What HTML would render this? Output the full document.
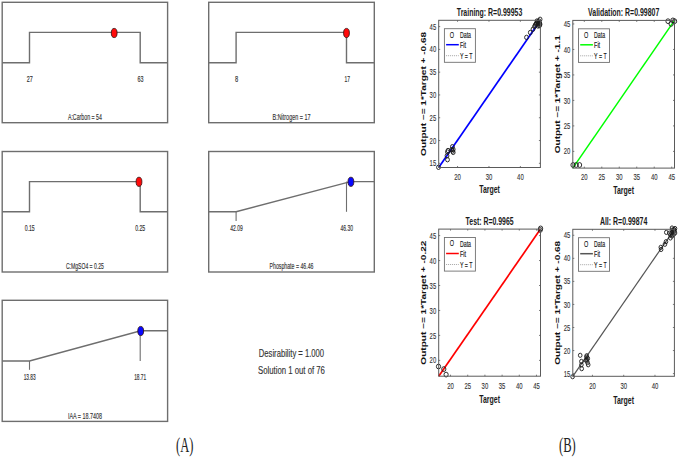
<!DOCTYPE html>
<html><head><meta charset="utf-8"><style>
html,body{margin:0;padding:0;background:#fff;}
svg{display:block;}
</style></head><body>
<svg width="678" height="458" viewBox="0 0 678 458">
<rect x="0" y="0" width="678" height="458" fill="#fff"/>
<rect x="2.2" y="2.3" width="165.4" height="120.4" fill="none" stroke="#6e6e6e" stroke-width="1.4"/>
<polyline points="2.2,62.7 29.5,62.7 29.5,32.4 140.2,32.4 140.2,62.7 167.6,62.7" fill="none" stroke="#6e6e6e" stroke-width="1.4" stroke-linejoin="miter"/>
<text x="29.8" y="82" font-family="&quot;Liberation Sans&quot;, sans-serif" font-size="9.6" font-weight="normal" text-anchor="middle" fill="#333" stroke="#333" stroke-width="0.18" textLength="6" lengthAdjust="spacingAndGlyphs" >27</text>
<text x="140.5" y="82" font-family="&quot;Liberation Sans&quot;, sans-serif" font-size="9.6" font-weight="normal" text-anchor="middle" fill="#333" stroke="#333" stroke-width="0.18" textLength="6" lengthAdjust="spacingAndGlyphs" >63</text>
<text x="84.89999999999999" y="119.5" font-family="&quot;Liberation Sans&quot;, sans-serif" font-size="9.4" font-weight="normal" text-anchor="middle" fill="#333" stroke="#333" stroke-width="0.15" textLength="34" lengthAdjust="spacingAndGlyphs" >A:Carbon = 54</text>
<ellipse cx="114.2" cy="33" rx="2.9" ry="4.6" fill="#ff0a0a" stroke="#301010" stroke-width="0.8"/>
<rect x="208.7" y="2.3" width="165.60000000000002" height="120.4" fill="none" stroke="#6e6e6e" stroke-width="1.4"/>
<polyline points="208.7,62.7 236.1,62.7 236.1,32.4 346.5,32.4 346.5,62.7 374.3,62.7" fill="none" stroke="#6e6e6e" stroke-width="1.4" stroke-linejoin="miter"/>
<text x="236.5" y="82" font-family="&quot;Liberation Sans&quot;, sans-serif" font-size="9.6" font-weight="normal" text-anchor="middle" fill="#333" stroke="#333" stroke-width="0.18" textLength="3.2" lengthAdjust="spacingAndGlyphs" >8</text>
<text x="347.3" y="82" font-family="&quot;Liberation Sans&quot;, sans-serif" font-size="9.6" font-weight="normal" text-anchor="middle" fill="#333" stroke="#333" stroke-width="0.18" textLength="5.5" lengthAdjust="spacingAndGlyphs" >17</text>
<text x="291.5" y="119.7" font-family="&quot;Liberation Sans&quot;, sans-serif" font-size="9.4" font-weight="normal" text-anchor="middle" fill="#333" stroke="#333" stroke-width="0.15" textLength="38" lengthAdjust="spacingAndGlyphs" >B:Nitrogen = 17</text>
<ellipse cx="346.5" cy="33" rx="2.9" ry="4.6" fill="#ff0a0a" stroke="#301010" stroke-width="0.8"/>
<rect x="2.2" y="151.5" width="165.4" height="120.5" fill="none" stroke="#6e6e6e" stroke-width="1.4"/>
<polyline points="2.2,211.8 29.5,211.8 29.5,181.6 140.2,181.6 140.2,211.8 167.6,211.8" fill="none" stroke="#6e6e6e" stroke-width="1.4" stroke-linejoin="miter"/>
<text x="29.7" y="231" font-family="&quot;Liberation Sans&quot;, sans-serif" font-size="9.6" font-weight="normal" text-anchor="middle" fill="#333" stroke="#333" stroke-width="0.18" textLength="10" lengthAdjust="spacingAndGlyphs" >0.15</text>
<text x="140.2" y="231" font-family="&quot;Liberation Sans&quot;, sans-serif" font-size="9.6" font-weight="normal" text-anchor="middle" fill="#333" stroke="#333" stroke-width="0.18" textLength="10" lengthAdjust="spacingAndGlyphs" >0.25</text>
<text x="84.89999999999999" y="268.6" font-family="&quot;Liberation Sans&quot;, sans-serif" font-size="9.4" font-weight="normal" text-anchor="middle" fill="#333" stroke="#333" stroke-width="0.15" textLength="38" lengthAdjust="spacingAndGlyphs" >C:MgSO4 = 0.25</text>
<ellipse cx="139" cy="181.8" rx="2.9" ry="4.6" fill="#ff0a0a" stroke="#301010" stroke-width="0.8"/>
<rect x="208.7" y="151.5" width="165.60000000000002" height="120.5" fill="none" stroke="#6e6e6e" stroke-width="1.4"/>
<polyline points="208.7,211.8 236.1,211.8 350.4,181.6 374.3,181.6" fill="none" stroke="#6e6e6e" stroke-width="1.4" stroke-linejoin="miter"/>
<line x1="236.1" y1="211.8" x2="236.1" y2="221" stroke="#6e6e6e" stroke-width="1.1" />
<line x1="346.5" y1="181.6" x2="346.5" y2="211.8" stroke="#6e6e6e" stroke-width="1.1" />
<text x="236.6" y="231.3" font-family="&quot;Liberation Sans&quot;, sans-serif" font-size="9.6" font-weight="normal" text-anchor="middle" fill="#333" stroke="#333" stroke-width="0.18" textLength="12.5" lengthAdjust="spacingAndGlyphs" >42.09</text>
<text x="346.8" y="231.3" font-family="&quot;Liberation Sans&quot;, sans-serif" font-size="9.6" font-weight="normal" text-anchor="middle" fill="#333" stroke="#333" stroke-width="0.18" textLength="12.5" lengthAdjust="spacingAndGlyphs" >46.30</text>
<text x="291.5" y="268.6" font-family="&quot;Liberation Sans&quot;, sans-serif" font-size="9.4" font-weight="normal" text-anchor="middle" fill="#333" stroke="#333" stroke-width="0.15" textLength="44" lengthAdjust="spacingAndGlyphs" >Phosphate = 46.46</text>
<ellipse cx="350.9" cy="181.8" rx="2.9" ry="4.6" fill="#0808ff" stroke="#301010" stroke-width="0.8"/>
<rect x="2.2" y="300.3" width="165.4" height="121.09999999999997" fill="none" stroke="#6e6e6e" stroke-width="1.4"/>
<polyline points="2.2,361.0 29.5,361.0 140.7,330.7 167.6,330.7" fill="none" stroke="#6e6e6e" stroke-width="1.4" stroke-linejoin="miter"/>
<line x1="29.5" y1="361.0" x2="29.5" y2="369.8" stroke="#6e6e6e" stroke-width="1.1" />
<line x1="140.2" y1="330.7" x2="140.2" y2="361.0" stroke="#6e6e6e" stroke-width="1.1" />
<text x="29.7" y="380" font-family="&quot;Liberation Sans&quot;, sans-serif" font-size="9.6" font-weight="normal" text-anchor="middle" fill="#333" stroke="#333" stroke-width="0.18" textLength="12" lengthAdjust="spacingAndGlyphs" >13.83</text>
<text x="140.2" y="380" font-family="&quot;Liberation Sans&quot;, sans-serif" font-size="9.6" font-weight="normal" text-anchor="middle" fill="#333" stroke="#333" stroke-width="0.18" textLength="12" lengthAdjust="spacingAndGlyphs" >18.71</text>
<text x="84.89999999999999" y="418.5" font-family="&quot;Liberation Sans&quot;, sans-serif" font-size="9.4" font-weight="normal" text-anchor="middle" fill="#333" stroke="#333" stroke-width="0.15" textLength="34" lengthAdjust="spacingAndGlyphs" >IAA = 18.7408</text>
<ellipse cx="140.7" cy="331" rx="2.9" ry="4.6" fill="#0808ff" stroke="#301010" stroke-width="0.8"/>
<text x="291.45" y="356.5" font-family="&quot;Liberation Sans&quot;, sans-serif" font-size="11" font-weight="normal" text-anchor="middle" fill="#333" stroke="#333" stroke-width="0.15" textLength="65.3" lengthAdjust="spacingAndGlyphs" >Desirability = 1.000</text>
<text x="291.45" y="374.2" font-family="&quot;Liberation Sans&quot;, sans-serif" font-size="11" font-weight="normal" text-anchor="middle" fill="#333" stroke="#333" stroke-width="0.15" textLength="66.9" lengthAdjust="spacingAndGlyphs" >Solution 1 out of 76</text>
<text x="184.8" y="451.7" font-family="&quot;Liberation Serif&quot;, serif" font-size="20" font-weight="normal" text-anchor="middle" fill="#222" textLength="17.4" lengthAdjust="spacingAndGlyphs" >(A)</text>
<text x="567.4" y="451.6" font-family="&quot;Liberation Serif&quot;, serif" font-size="20" font-weight="normal" text-anchor="middle" fill="#222" textLength="16.8" lengthAdjust="spacingAndGlyphs" >(B)</text>
<line x1="438.7" y1="167.5" x2="540.4" y2="20.3" stroke="#0000ff" stroke-width="1.7"/>
<ellipse cx="438.5" cy="167.3" rx="1.9" ry="2.2" fill="none" stroke="#1a1a1a" stroke-width="0.9"/>
<ellipse cx="447.5" cy="152" rx="1.9" ry="2.2" fill="none" stroke="#1a1a1a" stroke-width="0.9"/>
<ellipse cx="447" cy="155.8" rx="1.9" ry="2.2" fill="none" stroke="#1a1a1a" stroke-width="0.9"/>
<ellipse cx="447.5" cy="159.7" rx="1.9" ry="2.2" fill="none" stroke="#1a1a1a" stroke-width="0.9"/>
<ellipse cx="448" cy="150.5" rx="1.9" ry="2.2" fill="none" stroke="#1a1a1a" stroke-width="0.9"/>
<ellipse cx="452.4" cy="146.7" rx="1.9" ry="2.2" fill="none" stroke="#1a1a1a" stroke-width="0.9"/>
<ellipse cx="453.2" cy="149.4" rx="1.9" ry="2.2" fill="none" stroke="#1a1a1a" stroke-width="0.9"/>
<ellipse cx="453.2" cy="152.4" rx="1.9" ry="2.2" fill="none" stroke="#1a1a1a" stroke-width="0.9"/>
<ellipse cx="451.6" cy="149.7" rx="1.9" ry="2.2" fill="none" stroke="#1a1a1a" stroke-width="0.9"/>
<ellipse cx="452.6" cy="151" rx="1.9" ry="2.2" fill="none" stroke="#1a1a1a" stroke-width="0.9"/>
<ellipse cx="540.1" cy="19.3" rx="1.9" ry="2.2" fill="none" stroke="#1a1a1a" stroke-width="0.9"/>
<ellipse cx="539" cy="21" rx="1.9" ry="2.2" fill="none" stroke="#1a1a1a" stroke-width="0.9"/>
<ellipse cx="539.8" cy="23.2" rx="1.9" ry="2.2" fill="none" stroke="#1a1a1a" stroke-width="0.9"/>
<ellipse cx="536.5" cy="23.2" rx="1.9" ry="2.2" fill="none" stroke="#1a1a1a" stroke-width="0.9"/>
<ellipse cx="535.2" cy="25.1" rx="1.9" ry="2.2" fill="none" stroke="#1a1a1a" stroke-width="0.9"/>
<ellipse cx="539.5" cy="25.6" rx="1.9" ry="2.2" fill="none" stroke="#1a1a1a" stroke-width="0.9"/>
<ellipse cx="537.5" cy="22" rx="1.9" ry="2.2" fill="none" stroke="#1a1a1a" stroke-width="0.9"/>
<ellipse cx="533" cy="29.2" rx="1.9" ry="2.2" fill="none" stroke="#1a1a1a" stroke-width="0.9"/>
<ellipse cx="530.3" cy="32.5" rx="1.9" ry="2.2" fill="none" stroke="#1a1a1a" stroke-width="0.9"/>
<ellipse cx="526.5" cy="37.4" rx="1.9" ry="2.2" fill="none" stroke="#1a1a1a" stroke-width="0.9"/>
<ellipse cx="538" cy="24" rx="1.9" ry="2.2" fill="none" stroke="#1a1a1a" stroke-width="0.9"/>
<ellipse cx="537" cy="21" rx="1.9" ry="2.2" fill="none" stroke="#1a1a1a" stroke-width="0.9"/>
<ellipse cx="538.5" cy="22.5" rx="1.9" ry="2.2" fill="none" stroke="#1a1a1a" stroke-width="0.9"/>
<ellipse cx="540" cy="24.5" rx="1.9" ry="2.2" fill="none" stroke="#1a1a1a" stroke-width="0.9"/>
<ellipse cx="536" cy="24" rx="1.9" ry="2.2" fill="none" stroke="#1a1a1a" stroke-width="0.9"/>
<ellipse cx="538" cy="26" rx="1.9" ry="2.2" fill="none" stroke="#1a1a1a" stroke-width="0.9"/>
<ellipse cx="534.5" cy="26.5" rx="1.9" ry="2.2" fill="none" stroke="#1a1a1a" stroke-width="0.9"/>
<rect x="438.7" y="20.3" width="101.69999999999999" height="147.2" fill="none" stroke="#5a5a5a" stroke-width="1.0"/>
<line x1="457.5507877664504" y1="167.5" x2="457.5507877664504" y2="166.0" stroke="#5a5a5a" stroke-width="0.8" />
<line x1="457.5507877664504" y1="20.3" x2="457.5507877664504" y2="21.8" stroke="#5a5a5a" stroke-width="0.8" />
<text x="457.55" y="179.6" font-family="&quot;Liberation Sans&quot;, sans-serif" font-size="8.6" font-weight="normal" text-anchor="middle" fill="#333" stroke="#333" stroke-width="0.12" textLength="6.6" lengthAdjust="spacingAndGlyphs" >20</text>
<line x1="488.9687673772011" y1="167.5" x2="488.9687673772011" y2="166.0" stroke="#5a5a5a" stroke-width="0.8" />
<line x1="488.9687673772011" y1="20.3" x2="488.9687673772011" y2="21.8" stroke="#5a5a5a" stroke-width="0.8" />
<text x="488.97" y="179.6" font-family="&quot;Liberation Sans&quot;, sans-serif" font-size="8.6" font-weight="normal" text-anchor="middle" fill="#333" stroke="#333" stroke-width="0.12" textLength="6.6" lengthAdjust="spacingAndGlyphs" >30</text>
<line x1="520.3867469879518" y1="167.5" x2="520.3867469879518" y2="166.0" stroke="#5a5a5a" stroke-width="0.8" />
<line x1="520.3867469879518" y1="20.3" x2="520.3867469879518" y2="21.8" stroke="#5a5a5a" stroke-width="0.8" />
<text x="520.39" y="179.6" font-family="&quot;Liberation Sans&quot;, sans-serif" font-size="8.6" font-weight="normal" text-anchor="middle" fill="#333" stroke="#333" stroke-width="0.12" textLength="6.6" lengthAdjust="spacingAndGlyphs" >40</text>
<line x1="438.7" y1="163.307306501548" x2="440.2" y2="163.307306501548" stroke="#5a5a5a" stroke-width="0.8" />
<line x1="540.4" y1="163.307306501548" x2="538.9" y2="163.307306501548" stroke="#5a5a5a" stroke-width="0.8" />
<text x="436.2" y="166.41" font-family="&quot;Liberation Sans&quot;, sans-serif" font-size="8.6" font-weight="normal" text-anchor="end" fill="#333" stroke="#333" stroke-width="0.12" textLength="6.6" lengthAdjust="spacingAndGlyphs" >15</text>
<line x1="438.7" y1="140.52092879256966" x2="440.2" y2="140.52092879256966" stroke="#5a5a5a" stroke-width="0.8" />
<line x1="540.4" y1="140.52092879256966" x2="538.9" y2="140.52092879256966" stroke="#5a5a5a" stroke-width="0.8" />
<text x="436.2" y="143.62" font-family="&quot;Liberation Sans&quot;, sans-serif" font-size="8.6" font-weight="normal" text-anchor="end" fill="#333" stroke="#333" stroke-width="0.12" textLength="6.6" lengthAdjust="spacingAndGlyphs" >20</text>
<line x1="438.7" y1="117.73455108359134" x2="440.2" y2="117.73455108359134" stroke="#5a5a5a" stroke-width="0.8" />
<line x1="540.4" y1="117.73455108359134" x2="538.9" y2="117.73455108359134" stroke="#5a5a5a" stroke-width="0.8" />
<text x="436.2" y="120.83" font-family="&quot;Liberation Sans&quot;, sans-serif" font-size="8.6" font-weight="normal" text-anchor="end" fill="#333" stroke="#333" stroke-width="0.12" textLength="6.6" lengthAdjust="spacingAndGlyphs" >25</text>
<line x1="438.7" y1="94.94817337461302" x2="440.2" y2="94.94817337461302" stroke="#5a5a5a" stroke-width="0.8" />
<line x1="540.4" y1="94.94817337461302" x2="538.9" y2="94.94817337461302" stroke="#5a5a5a" stroke-width="0.8" />
<text x="436.2" y="98.05" font-family="&quot;Liberation Sans&quot;, sans-serif" font-size="8.6" font-weight="normal" text-anchor="end" fill="#333" stroke="#333" stroke-width="0.12" textLength="6.6" lengthAdjust="spacingAndGlyphs" >30</text>
<line x1="438.7" y1="72.16179566563468" x2="440.2" y2="72.16179566563468" stroke="#5a5a5a" stroke-width="0.8" />
<line x1="540.4" y1="72.16179566563468" x2="538.9" y2="72.16179566563468" stroke="#5a5a5a" stroke-width="0.8" />
<text x="436.2" y="75.26" font-family="&quot;Liberation Sans&quot;, sans-serif" font-size="8.6" font-weight="normal" text-anchor="end" fill="#333" stroke="#333" stroke-width="0.12" textLength="6.6" lengthAdjust="spacingAndGlyphs" >35</text>
<line x1="438.7" y1="49.37541795665638" x2="440.2" y2="49.37541795665638" stroke="#5a5a5a" stroke-width="0.8" />
<line x1="540.4" y1="49.37541795665638" x2="538.9" y2="49.37541795665638" stroke="#5a5a5a" stroke-width="0.8" />
<text x="436.2" y="52.48" font-family="&quot;Liberation Sans&quot;, sans-serif" font-size="8.6" font-weight="normal" text-anchor="end" fill="#333" stroke="#333" stroke-width="0.12" textLength="6.6" lengthAdjust="spacingAndGlyphs" >40</text>
<line x1="438.7" y1="26.589040247678042" x2="440.2" y2="26.589040247678042" stroke="#5a5a5a" stroke-width="0.8" />
<line x1="540.4" y1="26.589040247678042" x2="538.9" y2="26.589040247678042" stroke="#5a5a5a" stroke-width="0.8" />
<text x="436.2" y="29.69" font-family="&quot;Liberation Sans&quot;, sans-serif" font-size="8.6" font-weight="normal" text-anchor="end" fill="#333" stroke="#333" stroke-width="0.12" textLength="6.6" lengthAdjust="spacingAndGlyphs" >45</text>
<text x="489.54999999999995" y="16.0" font-family="&quot;Liberation Sans&quot;, sans-serif" font-size="10" font-weight="bold" text-anchor="middle" fill="#1a1a1a" textLength="65.5" lengthAdjust="spacingAndGlyphs" >Training: R=0.99953</text>
<text x="489.54999999999995" y="192.9" font-family="&quot;Liberation Sans&quot;, sans-serif" font-size="10.5" font-weight="bold" text-anchor="middle" fill="#1a1a1a" textLength="20.8" lengthAdjust="spacingAndGlyphs" >Target</text>
<text x="0" y="0" font-family="&quot;Liberation Sans&quot;, sans-serif" font-size="7.8" font-weight="bold" text-anchor="middle" fill="#111" textLength="124" lengthAdjust="spacingAndGlyphs" transform="translate(426.3,93.9) rotate(-90)">Output ~= 1*Target + -0.68</text>
<rect x="444.4" y="28.700000000000003" width="31" height="33.6" fill="#fff" stroke="#707070" stroke-width="0.9"/>
<text x="452.0" y="37.5" font-family="&quot;Liberation Sans&quot;, sans-serif" font-size="8.4" font-weight="normal" text-anchor="middle" fill="#111" stroke="#111" stroke-width="0.1" textLength="4.3" lengthAdjust="spacingAndGlyphs" >O</text>
<text x="460.0" y="38.0" font-family="&quot;Liberation Sans&quot;, sans-serif" font-size="8.4" font-weight="normal" text-anchor="start" fill="#111" stroke="#111" stroke-width="0.15" textLength="11" lengthAdjust="spacingAndGlyphs" >Data</text>
<line x1="446.09999999999997" y1="44.7" x2="458.79999999999995" y2="44.7" stroke="#0000ff" stroke-width="1.5"/>
<text x="460.0" y="47.900000000000006" font-family="&quot;Liberation Sans&quot;, sans-serif" font-size="8.4" font-weight="normal" text-anchor="start" fill="#111" stroke="#111" stroke-width="0.15" textLength="6" lengthAdjust="spacingAndGlyphs" >Fit</text>
<line x1="446.09999999999997" y1="55.7" x2="458.79999999999995" y2="55.7" stroke="#666" stroke-width="0.6" stroke-dasharray="1 1"/>
<text x="460.0" y="59.1" font-family="&quot;Liberation Sans&quot;, sans-serif" font-size="8.4" font-weight="normal" text-anchor="start" fill="#111" stroke="#111" stroke-width="0.15" textLength="12.5" lengthAdjust="spacingAndGlyphs" >Y = T</text>
<line x1="572.8" y1="168.1" x2="674.5" y2="20.4" stroke="#00ff00" stroke-width="1.5"/>
<ellipse cx="573" cy="165" rx="2.1" ry="2.4" fill="none" stroke="#1a1a1a" stroke-width="0.9"/>
<ellipse cx="576.2" cy="165" rx="2.1" ry="2.4" fill="none" stroke="#1a1a1a" stroke-width="0.9"/>
<ellipse cx="579.6" cy="165" rx="2.1" ry="2.4" fill="none" stroke="#1a1a1a" stroke-width="0.9"/>
<ellipse cx="668" cy="21.2" rx="2.1" ry="2.4" fill="none" stroke="#1a1a1a" stroke-width="0.9"/>
<ellipse cx="671.1" cy="23.9" rx="2.1" ry="2.4" fill="none" stroke="#1a1a1a" stroke-width="0.9"/>
<ellipse cx="674.6" cy="21.2" rx="2.1" ry="2.4" fill="none" stroke="#1a1a1a" stroke-width="0.9"/>
<ellipse cx="672.9" cy="20.4" rx="2.1" ry="2.4" fill="none" stroke="#1a1a1a" stroke-width="0.9"/>
<rect x="572.8" y="20.4" width="101.70000000000005" height="147.7" fill="none" stroke="#5a5a5a" stroke-width="1.0"/>
<line x1="584.3019938123066" y1="168.1" x2="584.3019938123066" y2="166.6" stroke="#5a5a5a" stroke-width="0.8" />
<line x1="584.3019938123066" y1="20.4" x2="584.3019938123066" y2="21.9" stroke="#5a5a5a" stroke-width="0.8" />
<text x="584.30" y="180.2" font-family="&quot;Liberation Sans&quot;, sans-serif" font-size="8.6" font-weight="normal" text-anchor="middle" fill="#333" stroke="#333" stroke-width="0.12" textLength="6.6" lengthAdjust="spacingAndGlyphs" >20</text>
<line x1="601.7822275696116" y1="168.1" x2="601.7822275696116" y2="166.6" stroke="#5a5a5a" stroke-width="0.8" />
<line x1="601.7822275696116" y1="20.4" x2="601.7822275696116" y2="21.9" stroke="#5a5a5a" stroke-width="0.8" />
<text x="601.78" y="180.2" font-family="&quot;Liberation Sans&quot;, sans-serif" font-size="8.6" font-weight="normal" text-anchor="middle" fill="#333" stroke="#333" stroke-width="0.12" textLength="6.6" lengthAdjust="spacingAndGlyphs" >25</text>
<line x1="619.2624613269164" y1="168.1" x2="619.2624613269164" y2="166.6" stroke="#5a5a5a" stroke-width="0.8" />
<line x1="619.2624613269164" y1="20.4" x2="619.2624613269164" y2="21.9" stroke="#5a5a5a" stroke-width="0.8" />
<text x="619.26" y="180.2" font-family="&quot;Liberation Sans&quot;, sans-serif" font-size="8.6" font-weight="normal" text-anchor="middle" fill="#333" stroke="#333" stroke-width="0.12" textLength="6.6" lengthAdjust="spacingAndGlyphs" >30</text>
<line x1="636.7426950842214" y1="168.1" x2="636.7426950842214" y2="166.6" stroke="#5a5a5a" stroke-width="0.8" />
<line x1="636.7426950842214" y1="20.4" x2="636.7426950842214" y2="21.9" stroke="#5a5a5a" stroke-width="0.8" />
<text x="636.74" y="180.2" font-family="&quot;Liberation Sans&quot;, sans-serif" font-size="8.6" font-weight="normal" text-anchor="middle" fill="#333" stroke="#333" stroke-width="0.12" textLength="6.6" lengthAdjust="spacingAndGlyphs" >35</text>
<line x1="654.2229288415263" y1="168.1" x2="654.2229288415263" y2="166.6" stroke="#5a5a5a" stroke-width="0.8" />
<line x1="654.2229288415263" y1="20.4" x2="654.2229288415263" y2="21.9" stroke="#5a5a5a" stroke-width="0.8" />
<text x="654.22" y="180.2" font-family="&quot;Liberation Sans&quot;, sans-serif" font-size="8.6" font-weight="normal" text-anchor="middle" fill="#333" stroke="#333" stroke-width="0.12" textLength="6.6" lengthAdjust="spacingAndGlyphs" >40</text>
<line x1="671.7031625988312" y1="168.1" x2="671.7031625988312" y2="166.6" stroke="#5a5a5a" stroke-width="0.8" />
<line x1="671.7031625988312" y1="20.4" x2="671.7031625988312" y2="21.9" stroke="#5a5a5a" stroke-width="0.8" />
<text x="671.70" y="180.2" font-family="&quot;Liberation Sans&quot;, sans-serif" font-size="8.6" font-weight="normal" text-anchor="middle" fill="#333" stroke="#333" stroke-width="0.12" textLength="6.6" lengthAdjust="spacingAndGlyphs" >45</text>
<line x1="572.8" y1="151.3830917874396" x2="574.3" y2="151.3830917874396" stroke="#5a5a5a" stroke-width="0.8" />
<line x1="674.5" y1="151.3830917874396" x2="673.0" y2="151.3830917874396" stroke="#5a5a5a" stroke-width="0.8" />
<text x="570.3" y="154.48" font-family="&quot;Liberation Sans&quot;, sans-serif" font-size="8.6" font-weight="normal" text-anchor="end" fill="#333" stroke="#333" stroke-width="0.12" textLength="6.6" lengthAdjust="spacingAndGlyphs" >20</text>
<line x1="572.8" y1="125.9" x2="574.3" y2="125.9" stroke="#5a5a5a" stroke-width="0.8" />
<line x1="674.5" y1="125.9" x2="673.0" y2="125.9" stroke="#5a5a5a" stroke-width="0.8" />
<text x="570.3" y="129.00" font-family="&quot;Liberation Sans&quot;, sans-serif" font-size="8.6" font-weight="normal" text-anchor="end" fill="#333" stroke="#333" stroke-width="0.12" textLength="6.6" lengthAdjust="spacingAndGlyphs" >25</text>
<line x1="572.8" y1="100.41690821256039" x2="574.3" y2="100.41690821256039" stroke="#5a5a5a" stroke-width="0.8" />
<line x1="674.5" y1="100.41690821256039" x2="673.0" y2="100.41690821256039" stroke="#5a5a5a" stroke-width="0.8" />
<text x="570.3" y="103.52" font-family="&quot;Liberation Sans&quot;, sans-serif" font-size="8.6" font-weight="normal" text-anchor="end" fill="#333" stroke="#333" stroke-width="0.12" textLength="6.6" lengthAdjust="spacingAndGlyphs" >30</text>
<line x1="572.8" y1="74.93381642512078" x2="574.3" y2="74.93381642512078" stroke="#5a5a5a" stroke-width="0.8" />
<line x1="674.5" y1="74.93381642512078" x2="673.0" y2="74.93381642512078" stroke="#5a5a5a" stroke-width="0.8" />
<text x="570.3" y="78.03" font-family="&quot;Liberation Sans&quot;, sans-serif" font-size="8.6" font-weight="normal" text-anchor="end" fill="#333" stroke="#333" stroke-width="0.12" textLength="6.6" lengthAdjust="spacingAndGlyphs" >35</text>
<line x1="572.8" y1="49.450724637681176" x2="574.3" y2="49.450724637681176" stroke="#5a5a5a" stroke-width="0.8" />
<line x1="674.5" y1="49.450724637681176" x2="673.0" y2="49.450724637681176" stroke="#5a5a5a" stroke-width="0.8" />
<text x="570.3" y="52.55" font-family="&quot;Liberation Sans&quot;, sans-serif" font-size="8.6" font-weight="normal" text-anchor="end" fill="#333" stroke="#333" stroke-width="0.12" textLength="6.6" lengthAdjust="spacingAndGlyphs" >40</text>
<line x1="572.8" y1="23.967632850241557" x2="574.3" y2="23.967632850241557" stroke="#5a5a5a" stroke-width="0.8" />
<line x1="674.5" y1="23.967632850241557" x2="673.0" y2="23.967632850241557" stroke="#5a5a5a" stroke-width="0.8" />
<text x="570.3" y="27.07" font-family="&quot;Liberation Sans&quot;, sans-serif" font-size="8.6" font-weight="normal" text-anchor="end" fill="#333" stroke="#333" stroke-width="0.12" textLength="6.6" lengthAdjust="spacingAndGlyphs" >45</text>
<text x="623.65" y="16.099999999999998" font-family="&quot;Liberation Sans&quot;, sans-serif" font-size="10" font-weight="bold" text-anchor="middle" fill="#1a1a1a" textLength="71.2" lengthAdjust="spacingAndGlyphs" >Validation: R=0.99807</text>
<text x="623.65" y="193.5" font-family="&quot;Liberation Sans&quot;, sans-serif" font-size="10.5" font-weight="bold" text-anchor="middle" fill="#1a1a1a" textLength="20.8" lengthAdjust="spacingAndGlyphs" >Target</text>
<text x="0" y="0" font-family="&quot;Liberation Sans&quot;, sans-serif" font-size="7.8" font-weight="bold" text-anchor="middle" fill="#111" textLength="118" lengthAdjust="spacingAndGlyphs" transform="translate(560.3,94.25) rotate(-90)">Output ~= 1*Target + -1.1</text>
<rect x="578.5" y="28.799999999999997" width="31" height="33.6" fill="#fff" stroke="#707070" stroke-width="0.9"/>
<text x="586.1" y="37.599999999999994" font-family="&quot;Liberation Sans&quot;, sans-serif" font-size="8.4" font-weight="normal" text-anchor="middle" fill="#111" stroke="#111" stroke-width="0.1" textLength="4.3" lengthAdjust="spacingAndGlyphs" >O</text>
<text x="594.1" y="38.099999999999994" font-family="&quot;Liberation Sans&quot;, sans-serif" font-size="8.4" font-weight="normal" text-anchor="start" fill="#111" stroke="#111" stroke-width="0.15" textLength="11" lengthAdjust="spacingAndGlyphs" >Data</text>
<line x1="580.2" y1="44.8" x2="592.9" y2="44.8" stroke="#00ff00" stroke-width="1.5"/>
<text x="594.1" y="48.0" font-family="&quot;Liberation Sans&quot;, sans-serif" font-size="8.4" font-weight="normal" text-anchor="start" fill="#111" stroke="#111" stroke-width="0.15" textLength="6" lengthAdjust="spacingAndGlyphs" >Fit</text>
<line x1="580.2" y1="55.8" x2="592.9" y2="55.8" stroke="#666" stroke-width="0.6" stroke-dasharray="1 1"/>
<text x="594.1" y="59.199999999999996" font-family="&quot;Liberation Sans&quot;, sans-serif" font-size="8.4" font-weight="normal" text-anchor="start" fill="#111" stroke="#111" stroke-width="0.15" textLength="12.5" lengthAdjust="spacingAndGlyphs" >Y = T</text>
<line x1="438.7" y1="376.2" x2="540.5" y2="229.1" stroke="#ff0000" stroke-width="1.7"/>
<ellipse cx="438.5" cy="366.5" rx="2.1" ry="2.4" fill="none" stroke="#1a1a1a" stroke-width="0.9"/>
<ellipse cx="443.8" cy="369.1" rx="2.1" ry="2.4" fill="none" stroke="#1a1a1a" stroke-width="0.9"/>
<ellipse cx="446.1" cy="374.6" rx="2.1" ry="2.4" fill="none" stroke="#1a1a1a" stroke-width="0.9"/>
<ellipse cx="540.6" cy="228.4" rx="2.1" ry="2.4" fill="none" stroke="#1a1a1a" stroke-width="0.9"/>
<ellipse cx="540.2" cy="230" rx="2.1" ry="2.4" fill="none" stroke="#1a1a1a" stroke-width="0.9"/>
<rect x="438.7" y="229.1" width="101.80000000000001" height="147.1" fill="none" stroke="#5a5a5a" stroke-width="1.0"/>
<line x1="450.52681526511316" y1="376.2" x2="450.52681526511316" y2="374.7" stroke="#5a5a5a" stroke-width="0.8" />
<line x1="450.52681526511316" y1="229.1" x2="450.52681526511316" y2="230.6" stroke="#5a5a5a" stroke-width="0.8" />
<text x="450.53" y="389.3" font-family="&quot;Liberation Sans&quot;, sans-serif" font-size="8.6" font-weight="normal" text-anchor="middle" fill="#333" stroke="#333" stroke-width="0.12" textLength="6.6" lengthAdjust="spacingAndGlyphs" >20</text>
<line x1="467.71695373184735" y1="376.2" x2="467.71695373184735" y2="374.7" stroke="#5a5a5a" stroke-width="0.8" />
<line x1="467.71695373184735" y1="229.1" x2="467.71695373184735" y2="230.6" stroke="#5a5a5a" stroke-width="0.8" />
<text x="467.72" y="389.3" font-family="&quot;Liberation Sans&quot;, sans-serif" font-size="8.6" font-weight="normal" text-anchor="middle" fill="#333" stroke="#333" stroke-width="0.12" textLength="6.6" lengthAdjust="spacingAndGlyphs" >25</text>
<line x1="484.90709219858155" y1="376.2" x2="484.90709219858155" y2="374.7" stroke="#5a5a5a" stroke-width="0.8" />
<line x1="484.90709219858155" y1="229.1" x2="484.90709219858155" y2="230.6" stroke="#5a5a5a" stroke-width="0.8" />
<text x="484.91" y="389.3" font-family="&quot;Liberation Sans&quot;, sans-serif" font-size="8.6" font-weight="normal" text-anchor="middle" fill="#333" stroke="#333" stroke-width="0.12" textLength="6.6" lengthAdjust="spacingAndGlyphs" >30</text>
<line x1="502.09723066531575" y1="376.2" x2="502.09723066531575" y2="374.7" stroke="#5a5a5a" stroke-width="0.8" />
<line x1="502.09723066531575" y1="229.1" x2="502.09723066531575" y2="230.6" stroke="#5a5a5a" stroke-width="0.8" />
<text x="502.10" y="389.3" font-family="&quot;Liberation Sans&quot;, sans-serif" font-size="8.6" font-weight="normal" text-anchor="middle" fill="#333" stroke="#333" stroke-width="0.12" textLength="6.6" lengthAdjust="spacingAndGlyphs" >35</text>
<line x1="519.28736913205" y1="376.2" x2="519.28736913205" y2="374.7" stroke="#5a5a5a" stroke-width="0.8" />
<line x1="519.28736913205" y1="229.1" x2="519.28736913205" y2="230.6" stroke="#5a5a5a" stroke-width="0.8" />
<text x="519.29" y="389.3" font-family="&quot;Liberation Sans&quot;, sans-serif" font-size="8.6" font-weight="normal" text-anchor="middle" fill="#333" stroke="#333" stroke-width="0.12" textLength="6.6" lengthAdjust="spacingAndGlyphs" >40</text>
<line x1="536.4775075987842" y1="376.2" x2="536.4775075987842" y2="374.7" stroke="#5a5a5a" stroke-width="0.8" />
<line x1="536.4775075987842" y1="229.1" x2="536.4775075987842" y2="230.6" stroke="#5a5a5a" stroke-width="0.8" />
<text x="536.48" y="389.3" font-family="&quot;Liberation Sans&quot;, sans-serif" font-size="8.6" font-weight="normal" text-anchor="middle" fill="#333" stroke="#333" stroke-width="0.12" textLength="6.6" lengthAdjust="spacingAndGlyphs" >45</text>
<line x1="438.7" y1="360.37689175432644" x2="440.2" y2="360.37689175432644" stroke="#5a5a5a" stroke-width="0.8" />
<line x1="540.5" y1="360.37689175432644" x2="539.0" y2="360.37689175432644" stroke="#5a5a5a" stroke-width="0.8" />
<text x="436.2" y="363.48" font-family="&quot;Liberation Sans&quot;, sans-serif" font-size="8.6" font-weight="normal" text-anchor="end" fill="#333" stroke="#333" stroke-width="0.12" textLength="6.6" lengthAdjust="spacingAndGlyphs" >20</text>
<line x1="438.7" y1="335.4193077706142" x2="440.2" y2="335.4193077706142" stroke="#5a5a5a" stroke-width="0.8" />
<line x1="540.5" y1="335.4193077706142" x2="539.0" y2="335.4193077706142" stroke="#5a5a5a" stroke-width="0.8" />
<text x="436.2" y="338.52" font-family="&quot;Liberation Sans&quot;, sans-serif" font-size="8.6" font-weight="normal" text-anchor="end" fill="#333" stroke="#333" stroke-width="0.12" textLength="6.6" lengthAdjust="spacingAndGlyphs" >25</text>
<line x1="438.7" y1="310.4617237869019" x2="440.2" y2="310.4617237869019" stroke="#5a5a5a" stroke-width="0.8" />
<line x1="540.5" y1="310.4617237869019" x2="539.0" y2="310.4617237869019" stroke="#5a5a5a" stroke-width="0.8" />
<text x="436.2" y="313.56" font-family="&quot;Liberation Sans&quot;, sans-serif" font-size="8.6" font-weight="normal" text-anchor="end" fill="#333" stroke="#333" stroke-width="0.12" textLength="6.6" lengthAdjust="spacingAndGlyphs" >30</text>
<line x1="438.7" y1="285.5041398031897" x2="440.2" y2="285.5041398031897" stroke="#5a5a5a" stroke-width="0.8" />
<line x1="540.5" y1="285.5041398031897" x2="539.0" y2="285.5041398031897" stroke="#5a5a5a" stroke-width="0.8" />
<text x="436.2" y="288.60" font-family="&quot;Liberation Sans&quot;, sans-serif" font-size="8.6" font-weight="normal" text-anchor="end" fill="#333" stroke="#333" stroke-width="0.12" textLength="6.6" lengthAdjust="spacingAndGlyphs" >35</text>
<line x1="438.7" y1="260.5465558194774" x2="440.2" y2="260.5465558194774" stroke="#5a5a5a" stroke-width="0.8" />
<line x1="540.5" y1="260.5465558194774" x2="539.0" y2="260.5465558194774" stroke="#5a5a5a" stroke-width="0.8" />
<text x="436.2" y="263.65" font-family="&quot;Liberation Sans&quot;, sans-serif" font-size="8.6" font-weight="normal" text-anchor="end" fill="#333" stroke="#333" stroke-width="0.12" textLength="6.6" lengthAdjust="spacingAndGlyphs" >40</text>
<line x1="438.7" y1="235.58897183576516" x2="440.2" y2="235.58897183576516" stroke="#5a5a5a" stroke-width="0.8" />
<line x1="540.5" y1="235.58897183576516" x2="539.0" y2="235.58897183576516" stroke="#5a5a5a" stroke-width="0.8" />
<text x="436.2" y="238.69" font-family="&quot;Liberation Sans&quot;, sans-serif" font-size="8.6" font-weight="normal" text-anchor="end" fill="#333" stroke="#333" stroke-width="0.12" textLength="6.6" lengthAdjust="spacingAndGlyphs" >45</text>
<text x="489.6" y="224.79999999999998" font-family="&quot;Liberation Sans&quot;, sans-serif" font-size="10" font-weight="bold" text-anchor="middle" fill="#1a1a1a" textLength="48" lengthAdjust="spacingAndGlyphs" >Test: R=0.9965</text>
<text x="489.6" y="402.6" font-family="&quot;Liberation Sans&quot;, sans-serif" font-size="10.5" font-weight="bold" text-anchor="middle" fill="#1a1a1a" textLength="20.8" lengthAdjust="spacingAndGlyphs" >Target</text>
<text x="0" y="0" font-family="&quot;Liberation Sans&quot;, sans-serif" font-size="7.8" font-weight="bold" text-anchor="middle" fill="#111" textLength="124" lengthAdjust="spacingAndGlyphs" transform="translate(426.3,302.65) rotate(-90)">Output ~= 1*Target + -0.22</text>
<rect x="444.4" y="237.5" width="31" height="33.6" fill="#fff" stroke="#707070" stroke-width="0.9"/>
<text x="452.0" y="246.3" font-family="&quot;Liberation Sans&quot;, sans-serif" font-size="8.4" font-weight="normal" text-anchor="middle" fill="#111" stroke="#111" stroke-width="0.1" textLength="4.3" lengthAdjust="spacingAndGlyphs" >O</text>
<text x="460.0" y="246.8" font-family="&quot;Liberation Sans&quot;, sans-serif" font-size="8.4" font-weight="normal" text-anchor="start" fill="#111" stroke="#111" stroke-width="0.15" textLength="11" lengthAdjust="spacingAndGlyphs" >Data</text>
<line x1="446.09999999999997" y1="253.5" x2="458.79999999999995" y2="253.5" stroke="#ff0000" stroke-width="1.5"/>
<text x="460.0" y="256.7" font-family="&quot;Liberation Sans&quot;, sans-serif" font-size="8.4" font-weight="normal" text-anchor="start" fill="#111" stroke="#111" stroke-width="0.15" textLength="6" lengthAdjust="spacingAndGlyphs" >Fit</text>
<line x1="446.09999999999997" y1="264.5" x2="458.79999999999995" y2="264.5" stroke="#666" stroke-width="0.6" stroke-dasharray="1 1"/>
<text x="460.0" y="267.9" font-family="&quot;Liberation Sans&quot;, sans-serif" font-size="8.4" font-weight="normal" text-anchor="start" fill="#111" stroke="#111" stroke-width="0.15" textLength="12.5" lengthAdjust="spacingAndGlyphs" >Y = T</text>
<line x1="572.8" y1="376.3" x2="674.4" y2="229.3" stroke="#555" stroke-width="1.2"/>
<ellipse cx="580.2" cy="355.3" rx="1.8" ry="2.1" fill="none" stroke="#1a1a1a" stroke-width="0.9"/>
<ellipse cx="581.4" cy="361.4" rx="1.8" ry="2.1" fill="none" stroke="#1a1a1a" stroke-width="0.9"/>
<ellipse cx="581.4" cy="364.8" rx="1.8" ry="2.1" fill="none" stroke="#1a1a1a" stroke-width="0.9"/>
<ellipse cx="581.7" cy="368.7" rx="1.8" ry="2.1" fill="none" stroke="#1a1a1a" stroke-width="0.9"/>
<ellipse cx="586.7" cy="355.7" rx="1.8" ry="2.1" fill="none" stroke="#1a1a1a" stroke-width="0.9"/>
<ellipse cx="587.8" cy="358.4" rx="1.8" ry="2.1" fill="none" stroke="#1a1a1a" stroke-width="0.9"/>
<ellipse cx="587.5" cy="362.6" rx="1.8" ry="2.1" fill="none" stroke="#1a1a1a" stroke-width="0.9"/>
<ellipse cx="588.2" cy="364.8" rx="1.8" ry="2.1" fill="none" stroke="#1a1a1a" stroke-width="0.9"/>
<ellipse cx="585.9" cy="360.3" rx="1.8" ry="2.1" fill="none" stroke="#1a1a1a" stroke-width="0.9"/>
<ellipse cx="586.5" cy="357" rx="1.8" ry="2.1" fill="none" stroke="#1a1a1a" stroke-width="0.9"/>
<ellipse cx="587" cy="360" rx="1.8" ry="2.1" fill="none" stroke="#1a1a1a" stroke-width="0.9"/>
<ellipse cx="572.6" cy="376.7" rx="1.8" ry="2.1" fill="none" stroke="#1a1a1a" stroke-width="0.9"/>
<ellipse cx="666.3" cy="232.4" rx="1.8" ry="2.1" fill="none" stroke="#1a1a1a" stroke-width="0.9"/>
<ellipse cx="669.3" cy="233.1" rx="1.8" ry="2.1" fill="none" stroke="#1a1a1a" stroke-width="0.9"/>
<ellipse cx="670.4" cy="238" rx="1.8" ry="2.1" fill="none" stroke="#1a1a1a" stroke-width="0.9"/>
<ellipse cx="666" cy="241.7" rx="1.8" ry="2.1" fill="none" stroke="#1a1a1a" stroke-width="0.9"/>
<ellipse cx="664.9" cy="244.3" rx="1.8" ry="2.1" fill="none" stroke="#1a1a1a" stroke-width="0.9"/>
<ellipse cx="660.8" cy="247.3" rx="1.8" ry="2.1" fill="none" stroke="#1a1a1a" stroke-width="0.9"/>
<ellipse cx="661.1" cy="249.5" rx="1.8" ry="2.1" fill="none" stroke="#1a1a1a" stroke-width="0.9"/>
<ellipse cx="672" cy="228" rx="1.8" ry="2.1" fill="none" stroke="#1a1a1a" stroke-width="0.9"/>
<ellipse cx="674" cy="229.5" rx="1.8" ry="2.1" fill="none" stroke="#1a1a1a" stroke-width="0.9"/>
<ellipse cx="673" cy="231.5" rx="1.8" ry="2.1" fill="none" stroke="#1a1a1a" stroke-width="0.9"/>
<ellipse cx="675" cy="233" rx="1.8" ry="2.1" fill="none" stroke="#1a1a1a" stroke-width="0.9"/>
<ellipse cx="673.5" cy="234.5" rx="1.8" ry="2.1" fill="none" stroke="#1a1a1a" stroke-width="0.9"/>
<ellipse cx="671.5" cy="233" rx="1.8" ry="2.1" fill="none" stroke="#1a1a1a" stroke-width="0.9"/>
<ellipse cx="674.5" cy="231" rx="1.8" ry="2.1" fill="none" stroke="#1a1a1a" stroke-width="0.9"/>
<ellipse cx="672.5" cy="230" rx="1.8" ry="2.1" fill="none" stroke="#1a1a1a" stroke-width="0.9"/>
<ellipse cx="670.5" cy="235" rx="1.8" ry="2.1" fill="none" stroke="#1a1a1a" stroke-width="0.9"/>
<ellipse cx="675" cy="228.5" rx="1.8" ry="2.1" fill="none" stroke="#1a1a1a" stroke-width="0.9"/>
<ellipse cx="672" cy="236" rx="1.8" ry="2.1" fill="none" stroke="#1a1a1a" stroke-width="0.9"/>
<rect x="572.8" y="229.3" width="101.60000000000002" height="147.0" fill="none" stroke="#5a5a5a" stroke-width="1.0"/>
<line x1="592.4382887042167" y1="376.3" x2="592.4382887042167" y2="374.8" stroke="#5a5a5a" stroke-width="0.8" />
<line x1="592.4382887042167" y1="229.3" x2="592.4382887042167" y2="230.8" stroke="#5a5a5a" stroke-width="0.8" />
<text x="592.44" y="389.40000000000003" font-family="&quot;Liberation Sans&quot;, sans-serif" font-size="8.6" font-weight="normal" text-anchor="middle" fill="#333" stroke="#333" stroke-width="0.12" textLength="6.6" lengthAdjust="spacingAndGlyphs" >20</text>
<line x1="623.7094490612495" y1="376.3" x2="623.7094490612495" y2="374.8" stroke="#5a5a5a" stroke-width="0.8" />
<line x1="623.7094490612495" y1="229.3" x2="623.7094490612495" y2="230.8" stroke="#5a5a5a" stroke-width="0.8" />
<text x="623.71" y="389.40000000000003" font-family="&quot;Liberation Sans&quot;, sans-serif" font-size="8.6" font-weight="normal" text-anchor="middle" fill="#333" stroke="#333" stroke-width="0.12" textLength="6.6" lengthAdjust="spacingAndGlyphs" >30</text>
<line x1="654.9806094182825" y1="376.3" x2="654.9806094182825" y2="374.8" stroke="#5a5a5a" stroke-width="0.8" />
<line x1="654.9806094182825" y1="229.3" x2="654.9806094182825" y2="230.8" stroke="#5a5a5a" stroke-width="0.8" />
<text x="654.98" y="389.40000000000003" font-family="&quot;Liberation Sans&quot;, sans-serif" font-size="8.6" font-weight="normal" text-anchor="middle" fill="#333" stroke="#333" stroke-width="0.12" textLength="6.6" lengthAdjust="spacingAndGlyphs" >40</text>
<line x1="572.8" y1="373.58033866415803" x2="574.3" y2="373.58033866415803" stroke="#5a5a5a" stroke-width="0.8" />
<line x1="674.4" y1="373.58033866415803" x2="672.9" y2="373.58033866415803" stroke="#5a5a5a" stroke-width="0.8" />
<text x="570.3" y="376.68" font-family="&quot;Liberation Sans&quot;, sans-serif" font-size="8.6" font-weight="normal" text-anchor="end" fill="#333" stroke="#333" stroke-width="0.12" textLength="6.6" lengthAdjust="spacingAndGlyphs" >15</text>
<line x1="572.8" y1="350.53236124176857" x2="574.3" y2="350.53236124176857" stroke="#5a5a5a" stroke-width="0.8" />
<line x1="674.4" y1="350.53236124176857" x2="672.9" y2="350.53236124176857" stroke="#5a5a5a" stroke-width="0.8" />
<text x="570.3" y="353.63" font-family="&quot;Liberation Sans&quot;, sans-serif" font-size="8.6" font-weight="normal" text-anchor="end" fill="#333" stroke="#333" stroke-width="0.12" textLength="6.6" lengthAdjust="spacingAndGlyphs" >20</text>
<line x1="572.8" y1="327.4843838193791" x2="574.3" y2="327.4843838193791" stroke="#5a5a5a" stroke-width="0.8" />
<line x1="674.4" y1="327.4843838193791" x2="672.9" y2="327.4843838193791" stroke="#5a5a5a" stroke-width="0.8" />
<text x="570.3" y="330.58" font-family="&quot;Liberation Sans&quot;, sans-serif" font-size="8.6" font-weight="normal" text-anchor="end" fill="#333" stroke="#333" stroke-width="0.12" textLength="6.6" lengthAdjust="spacingAndGlyphs" >25</text>
<line x1="572.8" y1="304.4364063969897" x2="574.3" y2="304.4364063969897" stroke="#5a5a5a" stroke-width="0.8" />
<line x1="674.4" y1="304.4364063969897" x2="672.9" y2="304.4364063969897" stroke="#5a5a5a" stroke-width="0.8" />
<text x="570.3" y="307.54" font-family="&quot;Liberation Sans&quot;, sans-serif" font-size="8.6" font-weight="normal" text-anchor="end" fill="#333" stroke="#333" stroke-width="0.12" textLength="6.6" lengthAdjust="spacingAndGlyphs" >30</text>
<line x1="572.8" y1="281.3884289746002" x2="574.3" y2="281.3884289746002" stroke="#5a5a5a" stroke-width="0.8" />
<line x1="674.4" y1="281.3884289746002" x2="672.9" y2="281.3884289746002" stroke="#5a5a5a" stroke-width="0.8" />
<text x="570.3" y="284.49" font-family="&quot;Liberation Sans&quot;, sans-serif" font-size="8.6" font-weight="normal" text-anchor="end" fill="#333" stroke="#333" stroke-width="0.12" textLength="6.6" lengthAdjust="spacingAndGlyphs" >35</text>
<line x1="572.8" y1="258.34045155221077" x2="574.3" y2="258.34045155221077" stroke="#5a5a5a" stroke-width="0.8" />
<line x1="674.4" y1="258.34045155221077" x2="672.9" y2="258.34045155221077" stroke="#5a5a5a" stroke-width="0.8" />
<text x="570.3" y="261.44" font-family="&quot;Liberation Sans&quot;, sans-serif" font-size="8.6" font-weight="normal" text-anchor="end" fill="#333" stroke="#333" stroke-width="0.12" textLength="6.6" lengthAdjust="spacingAndGlyphs" >40</text>
<line x1="572.8" y1="235.29247412982124" x2="574.3" y2="235.29247412982124" stroke="#5a5a5a" stroke-width="0.8" />
<line x1="674.4" y1="235.29247412982124" x2="672.9" y2="235.29247412982124" stroke="#5a5a5a" stroke-width="0.8" />
<text x="570.3" y="238.39" font-family="&quot;Liberation Sans&quot;, sans-serif" font-size="8.6" font-weight="normal" text-anchor="end" fill="#333" stroke="#333" stroke-width="0.12" textLength="6.6" lengthAdjust="spacingAndGlyphs" >45</text>
<text x="623.5999999999999" y="225.0" font-family="&quot;Liberation Sans&quot;, sans-serif" font-size="10" font-weight="bold" text-anchor="middle" fill="#1a1a1a" textLength="47.4" lengthAdjust="spacingAndGlyphs" >All: R=0.99874</text>
<text x="623.5999999999999" y="403.6" font-family="&quot;Liberation Sans&quot;, sans-serif" font-size="10.5" font-weight="bold" text-anchor="middle" fill="#1a1a1a" textLength="20.8" lengthAdjust="spacingAndGlyphs" >Target</text>
<text x="0" y="0" font-family="&quot;Liberation Sans&quot;, sans-serif" font-size="7.8" font-weight="bold" text-anchor="middle" fill="#111" textLength="124" lengthAdjust="spacingAndGlyphs" transform="translate(560.3,302.8) rotate(-90)">Output ~= 1*Target + -0.68</text>
<rect x="578.5" y="237.70000000000002" width="31" height="33.6" fill="#fff" stroke="#707070" stroke-width="0.9"/>
<text x="586.1" y="246.50000000000003" font-family="&quot;Liberation Sans&quot;, sans-serif" font-size="8.4" font-weight="normal" text-anchor="middle" fill="#111" stroke="#111" stroke-width="0.1" textLength="4.3" lengthAdjust="spacingAndGlyphs" >O</text>
<text x="594.1" y="247.00000000000003" font-family="&quot;Liberation Sans&quot;, sans-serif" font-size="8.4" font-weight="normal" text-anchor="start" fill="#111" stroke="#111" stroke-width="0.15" textLength="11" lengthAdjust="spacingAndGlyphs" >Data</text>
<line x1="580.2" y1="253.70000000000002" x2="592.9" y2="253.70000000000002" stroke="#555" stroke-width="1.5"/>
<text x="594.1" y="256.90000000000003" font-family="&quot;Liberation Sans&quot;, sans-serif" font-size="8.4" font-weight="normal" text-anchor="start" fill="#111" stroke="#111" stroke-width="0.15" textLength="6" lengthAdjust="spacingAndGlyphs" >Fit</text>
<line x1="580.2" y1="264.70000000000005" x2="592.9" y2="264.70000000000005" stroke="#666" stroke-width="0.6" stroke-dasharray="1 1"/>
<text x="594.1" y="268.1" font-family="&quot;Liberation Sans&quot;, sans-serif" font-size="8.4" font-weight="normal" text-anchor="start" fill="#111" stroke="#111" stroke-width="0.15" textLength="12.5" lengthAdjust="spacingAndGlyphs" >Y = T</text>
</svg>
</body></html>
